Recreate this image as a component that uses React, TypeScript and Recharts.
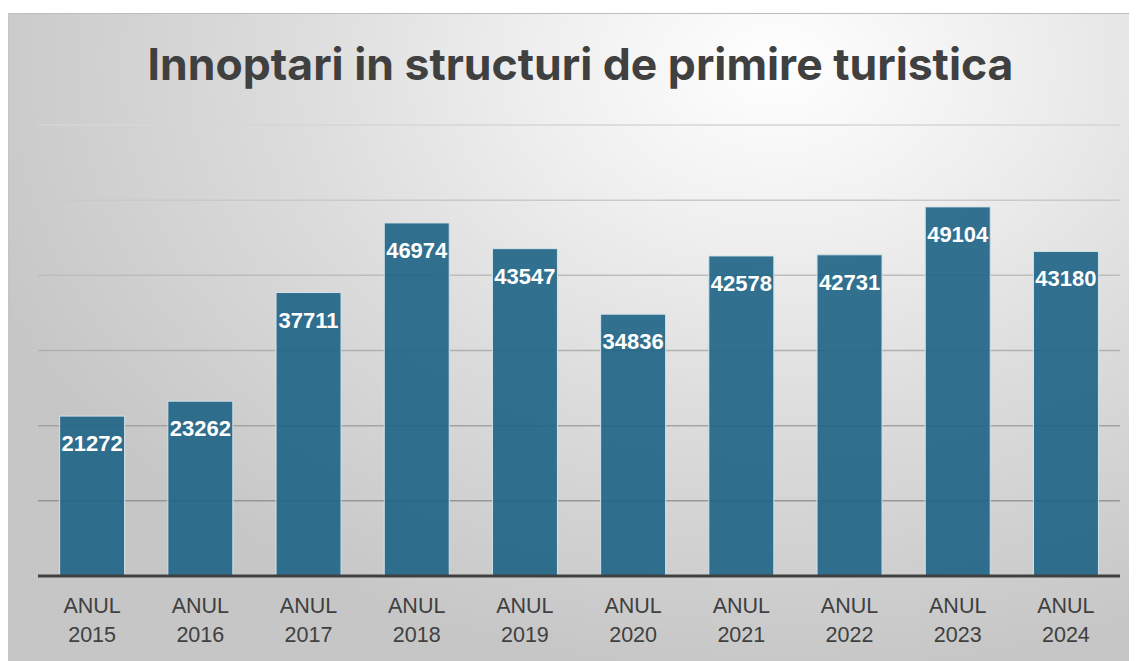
import React from "react";
import { BarChart, Bar, XAxis, YAxis, CartesianGrid, LabelList } from "recharts";

const categories = ["2015", "2016", "2017", "2018", "2019", "2020", "2021", "2022", "2023", "2024"];
const values = [21272, 23262, 37711, 46974, 43547, 34836, 42578, 42731, 49104, 43180];
const yTicks = [0, 10000, 20000, 30000, 40000, 50000, 60000];
const titleText = "Innoptari in structuri de primire turistica";
const tickPrefix = "ANUL";

const data = categories.map((c, i) => ({ year: c, value: values[i] }));

const W = 1129;
const H = 648;

const Tick = (props: any) => {
  const { x, y, payload } = props;
  return (
    <g transform={`translate(${x},${y})`}>
      <text
        textAnchor="middle"
        fill="#404040"
        fontFamily="'Liberation Sans', Arial, sans-serif"
        fontSize={21.5}
      >
        <tspan x={0} y={29}>{tickPrefix}</tspan>
        <tspan x={0} y={58}>{payload.value}</tspan>
      </text>
    </g>
  );
};

const ValueLabel = (props: any) => {
  const { x, y, width, value } = props;
  return (
    <text
      x={x + width / 2}
      y={y + 35}
      textAnchor="middle"
      fill="#ffffff"
      fontFamily="'Liberation Sans', Arial, sans-serif"
      fontWeight={700}
      fontSize={22}
    >
      {value}
    </text>
  );
};

export default function App() {
  return (
    <div
      style={{
        position: "relative",
        width: W,
        height: H,
        marginTop: 5,
        boxSizing: "border-box",
        borderTop: "1px solid #bdbdbd",
        borderLeft: "1px solid #c4c4c4",
        background:
          "radial-gradient(ellipse 75% 95% at 68% 8%, #ffffff 0%, #efefef 28%, #dcdcdc 58%, #c6c6c6 100%)",
        overflow: "hidden",
      }}
    >
      <div
        style={{
          position: "absolute",
          left: 7,
          top: 23,
          width: W,
          textAlign: "center",
          fontFamily: "Inter, 'Open Sans', sans-serif",
          fontWeight: 700,
          fontSize: 44.5,
          color: "#404040",
          lineHeight: "54px",
          whiteSpace: "nowrap",
        }}
      >
        {titleText}
      </div>
      <div style={{ position: "absolute", left: -1, top: -1 }}>
        <BarChart
          width={W}
          height={H}
          data={data}
          margin={{ top: 112, right: 17, bottom: 0, left: 30 }}
          barCategoryGap="20%"
        >
          <defs>
            <linearGradient id="gridGrad" gradientUnits="userSpaceOnUse" x1="0" y1="112" x2="0" y2="563">
              <stop offset="0%" stopColor="#d6d6d6" />
              <stop offset="100%" stopColor="#8a8a8a" />
            </linearGradient>
          </defs>
          <CartesianGrid vertical={false} stroke="url(#gridGrad)" strokeWidth={1.5} />
          <YAxis hide domain={[0, 60000]} ticks={yTicks} />
          <XAxis
            dataKey="year"
            height={85}
            tickLine={false}
            axisLine={{ stroke: "#404040", strokeWidth: 3 }}
            tick={<Tick />}
            interval={0}
          />
          <Bar
            dataKey="value"
            fill="#1e6385"
            fillOpacity={0.9}
            stroke="#d4e3ea"
            strokeWidth={1}
            isAnimationActive={false}
          >
            <LabelList dataKey="value" content={<ValueLabel />} />
          </Bar>
        </BarChart>
      </div>
    </div>
  );
}
